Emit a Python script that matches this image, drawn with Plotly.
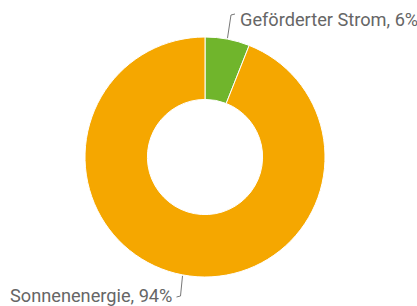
import math
import plotly.graph_objects as go

labels = ["Geförderter Strom", "Sonnenenergie"]
values = [6, 94]
colors = ["#70b52c", "#f5a700"]

W, H = 417, 306
cx, cy, R = 205, 157, 120

def px(x):
    return x / W

def py(y):
    return 1 - y / H

fig = go.Figure()
fig.add_trace(go.Pie(
    labels=labels, values=values, sort=False, direction="clockwise", rotation=0,
    hole=0.48, textinfo="none", hoverinfo="label+percent",
    marker=dict(colors=colors, line=dict(color="white", width=1)),
    domain=dict(x=[px(cx - R), px(cx + R)], y=[py(cy + R), py(cy - R)]),
    showlegend=False,
))

total = sum(values)
start = 0.0
shapes = []
annotations = []
for lab, v in zip(labels, values):
    mid = start + v / total * 360 / 2
    start += v / total * 360
    a = math.radians(mid)
    ex, ey = cx + R * math.sin(a), cy - R * math.cos(a)
    pct = round(v / total * 100)
    if math.cos(a) > 0:  # upper label
        bx, by = ex + 3.5, 15
        tx = bx + 5
        path = f"M {px(ex)},{py(ey-1)} L {px(bx)},{py(by)} L {px(tx-1)},{py(by-1)}"
        annotations.append(dict(x=px(238), y=py(19), xref="paper", yref="paper",
                                text=f"{lab}, {pct}%", showarrow=False,
                                xanchor="left", yanchor="middle"))
    else:
        bx, by = ex - 2, 296
        tx = bx - 5
        path = f"M {px(ex)},{py(ey+1)} L {px(bx)},{py(by)} L {px(tx+1)},{py(by+1)}"
        annotations.append(dict(x=px(174), y=py(295), xref="paper", yref="paper",
                                text=f"{lab}, {pct}%", showarrow=False,
                                xanchor="right", yanchor="middle"))
    shapes.append(dict(type="path", path=path, xref="paper", yref="paper",
                       line=dict(color="#777777", width=1)))

fig.update_layout(
    width=W, height=H,
    margin=dict(l=0, r=0, t=0, b=0),
    paper_bgcolor="white", plot_bgcolor="white",
    font=dict(family="Roboto", size=18.2, color="#666666"),
    shapes=shapes, annotations=annotations,
)
fig.write_html("out.html", config={"displayModeBar": False},
               post_script="document.body.style.margin='0';")
